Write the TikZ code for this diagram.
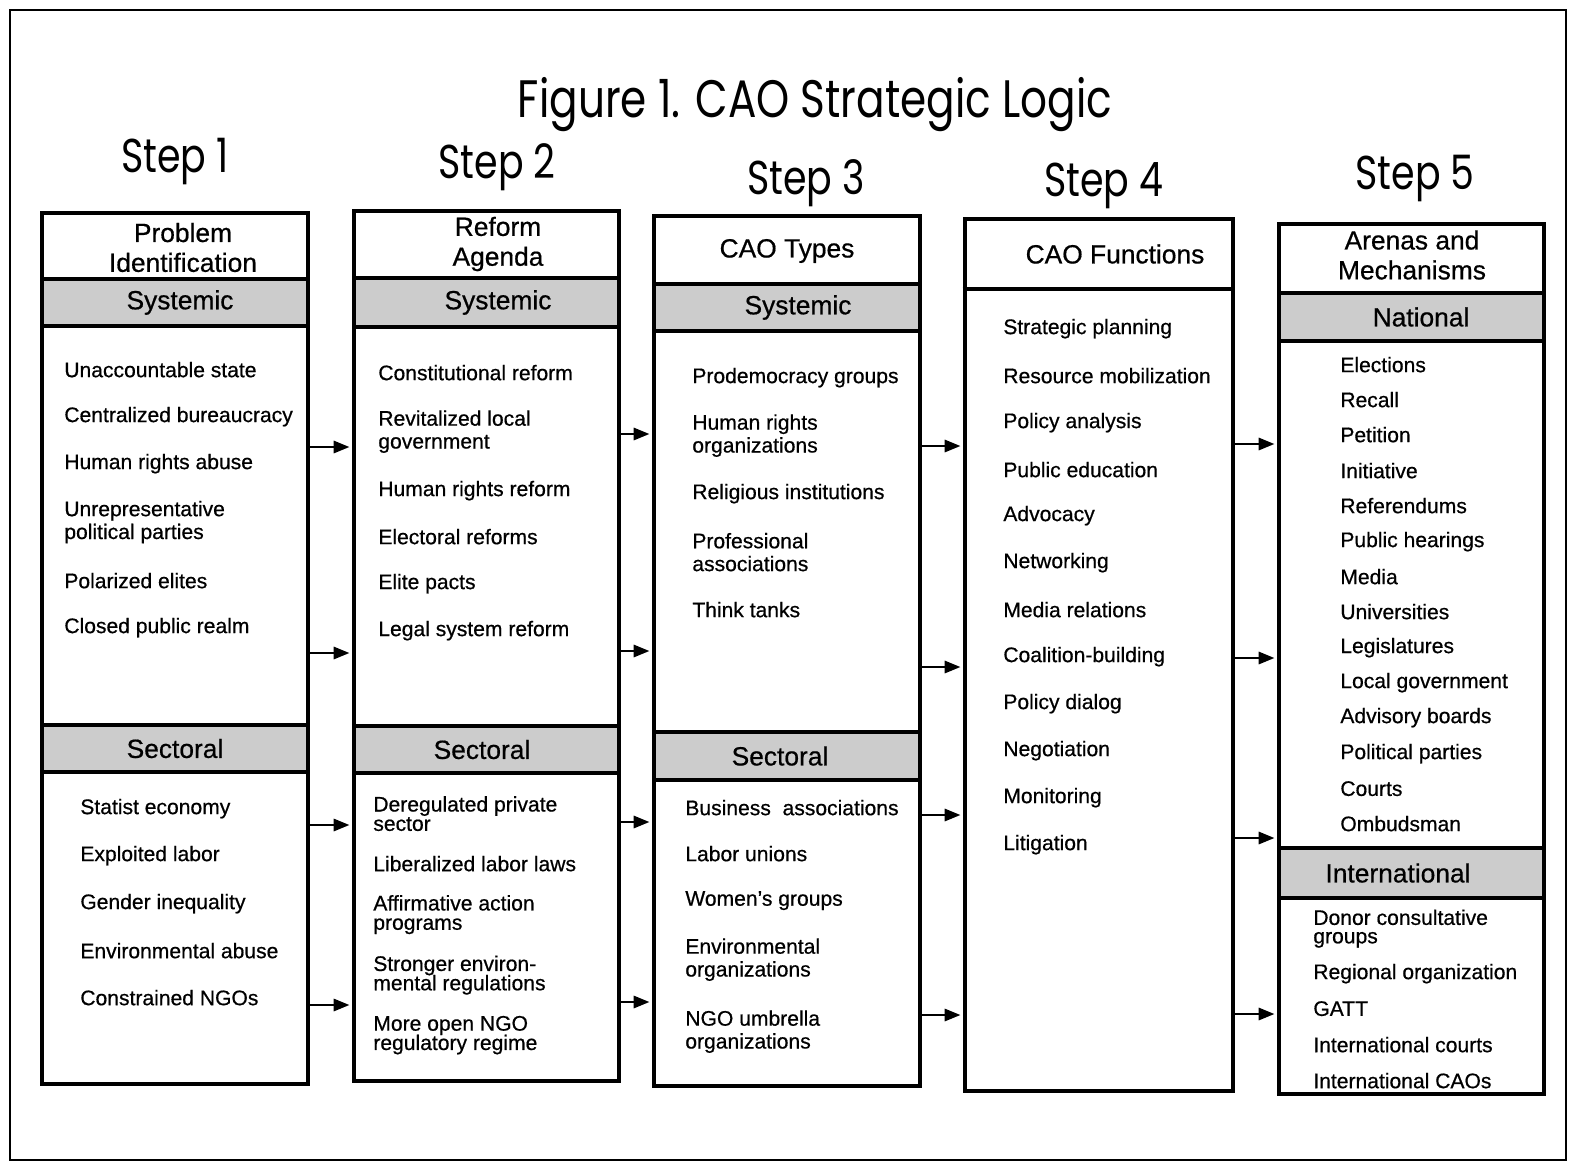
\documentclass[tikz,border=0pt]{standalone}
\usepackage{fontspec}
\setmainfont{Liberation Sans}[FakeBold=0.6]
\newfontfamily\stepfont{Poppins}[FakeStretch=0.8]
\usetikzlibrary{arrows.meta}
\usetikzlibrary{fit}

\tikzset{
	colbox/.style={draw, line width=2.6pt, inner sep=0pt},
	band/.style={draw, line width=2.6pt, fill=black!20, inner sep=0pt},
	bandtext/.style={font=\fontsize{15}{17}\selectfont},
	headtext/.style={align=center, font=\fontsize{15}{17}\selectfont},
	itemtext/.style={anchor=west, align=left, inner sep=0pt, yshift=-1.5pt, font=\fontsize{12}{13}\selectfont},
	steplabel/.style={font=\stepfont\fontsize{27}{30}\selectfont},
	flow/.style={-{Triangle[length=9pt,width=7pt]}, line width=1.3pt, shorten >=1.3pt},
}

\begin{document}
\begin{tikzpicture}[x=0.02cm,y=-0.02cm]
	\useasboundingbox (0,0) rectangle (1573,1171);
	%frame
	\draw[line width=1.3pt] (10,10) rectangle (1566,1160);

	%title
	\node (title) [font=\stepfont\fontsize{30}{34}\selectfont] at (815,105) {Figure 1. CAO Strategic Logic};
	\node (stepA) [steplabel] at (175,162) {Step 1};
	\node (stepB) [steplabel] at (497,167) {Step 2};
	\node (stepC) [steplabel] at (806,183) {Step 3};
	\node (stepD) [steplabel] at (1104,186) {Step 4};
	\node (stepE) [steplabel] at (1415,178) {Step 5};

	%columns
	\node (colA) [colbox, fit={(42,213) (308,1084)}] {};
	\node (colB) [colbox, fit={(354,211) (619,1081)}] {};
	\node (colC) [colbox, fit={(654,216) (920,1086)}] {};
	\node (colD) [colbox, fit={(965,219) (1233,1091)}] {};
	\node (colE) [colbox, fit={(1279,224) (1544,1094)}] {};

	%headers
	\node (hdA) [headtext] at (183,247.5) {Problem\\Identification};
	\node (hdB) [headtext] at (498,244) {Reform\\Agenda};
	\node (hdC) [headtext] at (787,251) {CAO Types};
	\node (hdD) [headtext] at (1115,254) {CAO Functions};
	\node (hdE) [headtext] at (1412,255) {Arenas and\\Mechanisms};

	%bands
	\node (sysA) [band, fit={(42,279) (308,326)}] {};
	\node (secA) [band, fit={(42,725) (308,772)}] {};
	\node (sysB) [band, fit={(354,278) (619,327)}] {};
	\node (secB) [band, fit={(354,726) (619,773)}] {};
	\node (sysC) [band, fit={(654,284) (920,331)}] {};
	\node (secC) [band, fit={(654,732) (920,780)}] {};
	\draw[line width=2.6pt] (colD.west |- 0,289) -- (colD.east |- 0,289);
	\node (natE) [band, fit={(1279,293) (1544,341)}] {};
	\node (intE) [band, fit={(1279,848) (1544,898)}] {};
	\node (sysAt) [bandtext] at (sysA.center -| 180,0) {Systemic};
	\node (secAt) [bandtext] at (secA.center -| 175,0) {Sectoral};
	\node (sysBt) [bandtext] at (sysB.center -| 498,0) {Systemic};
	\node (secBt) [bandtext] at (secB.center -| 482,0) {Sectoral};
	\node (sysCt) [bandtext] at (sysC.center -| 798,0) {Systemic};
	\node (secCt) [bandtext] at (secC.center -| 780,0) {Sectoral};
	\node (natEt) [bandtext] at (natE.center -| 1421,0) {National};
	\node (intEt) [bandtext] at (intE.center -| 1398,0) {International};

	%step 1
	\foreach \y/\t [count=\i] in {367/Unaccountable state, 414/Centralized bureaucracy,
		461/Human rights abuse, 519.5/{Unrepresentative\\political parties},
		578/Polarized elites, 625/Closed public realm}
		\node (sA\i) [itemtext] at (64,\y) {\t};
	\foreach \y/\t [count=\i] in {806/Statist economy, 853/Exploited labor,
		901/Gender inequality, 948/Environmental abuse, 995/Constrained NGOs}
		\node (tA\i) [itemtext] at (80,\y) {\t};

	%step 2
	\foreach \y/\t [count=\i] in {370/Constitutional reform, 429/{Revitalized local\\government},
		488/Human rights reform, 534/Electoral reforms, 581/Elite pacts, 628/Legal system reform}
		\node (sB\i) [itemtext] at (378,\y) {\t};
	\foreach \y/\t [count=\i] in {811/{Deregulated private\\[-2pt]sector}, 861/Liberalized labor laws,
		912/{Affirmative action\\[-2pt]programs}, 972.5/{Stronger environ-\\[-2pt]mental regulations},
		1032.5/{More open NGO\\[-2pt]regulatory regime}}
		\node (tB\i) [itemtext] at (373,\y) {\t};

	%step 3
	\foreach \y/\t [count=\i] in {375/Prodemocracy groups, 433/{Human rights\\organizations},
		491/Religious institutions, 549.5/{Professional\\associations}, 607/Think tanks}
		\node (sC\i) [itemtext] at (692,\y) {\t};
	\foreach \y/\t [count=\i] in {805/Business\ \ associations, 851/Labor unions,
		898/Women’s groups, 957/{Environmental\\organizations}, 1029/{NGO umbrella\\organizations}}
		\node (tC\i) [itemtext] at (685,\y) {\t};

	%step 4
	\foreach \y/\t [count=\i] in {326/Strategic planning, 373/Resource mobilization,
		420/Policy analysis, 467/Public education, 513/Advocacy, 560/Networking,
		607/Media relations, 654/Coalition-building, 701/Policy dialog,
		748/Negotiation, 795/Monitoring, 842/Litigation}
		\node (sD\i) [itemtext] at (1003,\y) {\t};

	%step 5
	\foreach \y/\t [count=\i] in {362/Elections, 397/Recall, 432/Petition, 468/Initiative,
		503/Referendums, 539/Public hearings, 574/Media, 609/Universities, 645/Legislatures,
		680/Local government, 715/Advisory boards, 751/Political parties, 786/Courts, 821/Ombudsman}
		\node (sE\i) [itemtext] at (1340,\y) {\t};
	\foreach \y/\t [count=\i] in {926/{Donor consultative\\[-2.5pt]groups}, 971/Regional organization,
		1006/GATT, 1042/International courts, 1078/International CAOs}
		\node (tE\i) [itemtext] at (1313,\y) {\t};

	%arrows
	\foreach \y in {447,653,825,1005}
		\draw[flow] (colA.east |- 0,\y) -- (colB.west |- 0,\y);
	\foreach \y in {434,651,822,1002}
		\draw[flow] (colB.east |- 0,\y) -- (colC.west |- 0,\y);
	\foreach \y in {446,667,815,1015}
		\draw[flow] (colC.east |- 0,\y) -- (colD.west |- 0,\y);
	\foreach \y in {444,658,838,1014}
		\draw[flow] (colD.east |- 0,\y) -- (colE.west |- 0,\y);
\end{tikzpicture}
\end{document}
